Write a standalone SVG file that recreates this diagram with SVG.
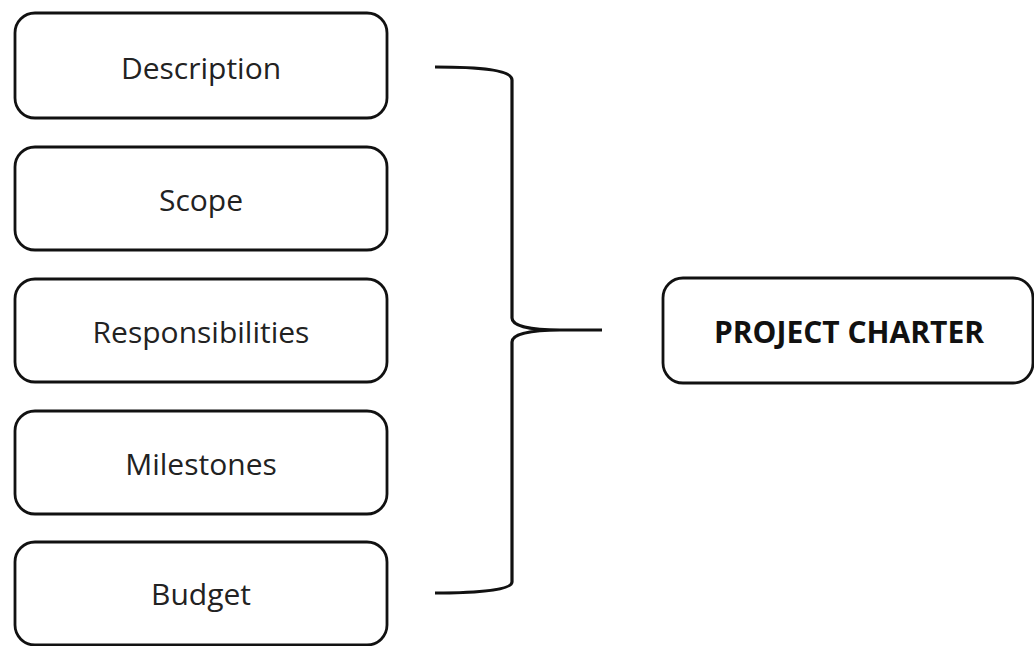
<svg xmlns="http://www.w3.org/2000/svg" width="1034" height="646" viewBox="0 0 1034 646">
<style>
.box{fill:#fff;stroke:#111;stroke-width:2.8}
.lbl{font-family:"Open Sans","Liberation Sans",sans-serif;font-size:30px;fill:#222;text-anchor:middle}
.bold{font-weight:bold;font-size:30px;fill:#111}
.brace{fill:none;stroke:#111;stroke-width:3.2;stroke-linecap:butt}
</style>
<rect width="1034" height="646" fill="#fff"/>
<g id="description"><rect class="box" x="15" y="13" width="372" height="105" rx="20"/><text class="lbl" x="201" y="79">Description</text></g>
<g id="scope"><rect class="box" x="15" y="147" width="372" height="103" rx="20"/><text class="lbl" x="201" y="211">Scope</text></g>
<g id="responsibilities"><rect class="box" x="15" y="279" width="372" height="103" rx="20"/><text class="lbl" x="201" y="343">Responsibilities</text></g>
<g id="milestones"><rect class="box" x="15" y="411" width="372" height="103" rx="20"/><text class="lbl" x="201" y="475">Milestones</text></g>
<g id="budget"><rect class="box" x="15" y="542" width="372" height="103" rx="20"/><text class="lbl" x="201" y="605">Budget</text></g>
<g id="project-charter"><rect class="box" x="663" y="278" width="370" height="105" rx="20"/><text class="lbl bold" x="849" y="343">PROJECT CHARTER</text></g>
<g id="connectors">
<path class="brace" d="M435 67 C480 67 512 70 512 80 L512 318 C512 326 530 330 560 330 L602 330 M560 330 C530 330 512 334 512 342 L512 582 C512 590 480 593 435 593"/>
</g>
</svg>
